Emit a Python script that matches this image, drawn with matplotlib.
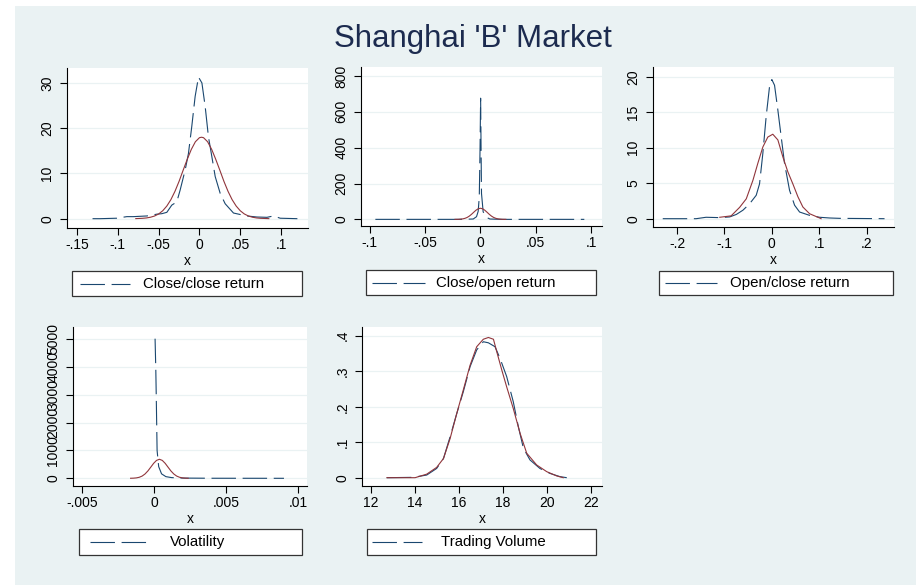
import matplotlib.pyplot as plt
from matplotlib.patches import Rectangle
from matplotlib.lines import Line2D

plt.rcParams['font.family'] = ['Liberation Sans', 'DejaVu Sans']

W, H = 916, 585
BG = '#eaf2f3'
NAVY = '#1a476f'
MAROON = '#90353b'

titulo = "Shanghai 'B' Market"

# Close/close return
cc_kd_x = [-0.131, -0.1218, -0.1014, -0.089, -0.081, -0.0645, -0.052, -0.0462, -0.040, -0.0339,
           -0.0278, -0.0237, -0.0176, -0.0135, -0.0094, -0.0053, -0.0012, 0.003, 0.007, 0.011,
           0.0152, 0.0193, 0.0254, 0.0315, 0.0417, 0.058, 0.0704, 0.0827, 0.0908, 0.099, 0.12]
cc_kd_y = [0, 0, 0.1, 0.45, 0.45, 0.6, 1.0, 1.1, 1.4, 3.0,
           3.7, 6.3, 10.7, 14.4, 20.4, 27.0, 31.3, 30.0, 24.8, 18.1,
           13.7, 9.3, 5.6, 3.3, 1.25, 0.6, 0.37, 0.3, 0.6, 0.1, 0]
cc_nd_x = [-0.078, -0.07, -0.065, -0.06, -0.055, -0.05, -0.045, -0.04, -0.035, -0.03, -0.025,
           -0.02, -0.015, -0.01, -0.005, 0.0, 0.0025, 0.005, 0.01, 0.015, 0.02, 0.025, 0.03,
           0.035, 0.04, 0.045, 0.05, 0.055, 0.06, 0.065, 0.07, 0.075, 0.085]
cc_nd_y = [0.02, 0.08, 0.16, 0.32, 0.59, 1.04, 1.75, 2.79, 4.21, 6.05, 8.24,
           10.7, 13.1, 15.3, 17.0, 17.9, 18.0, 17.9, 17.0, 15.3, 13.1, 10.7, 8.24,
           6.05, 4.21, 2.79, 1.75, 1.04, 0.59, 0.32, 0.16, 0.08, 0.01]

# Close/open return
co_kd_x = [-0.095, -0.02, -0.0065, -0.0035, -0.002, -0.001, -0.0003, 0.0002, 0.0006, 0.001,
           0.0025, 0.0056, 0.0086, 0.02, 0.094]
co_kd_y = [0, 0, 2, 15, 45, 126, 400, 676, 400, 145, 42, 11, 2, 0, 0]
co_nd_x = [-0.023, -0.02, -0.018, -0.016, -0.014, -0.012, -0.01, -0.008, -0.006, -0.004, -0.002,
           0.0, 0.002, 0.004, 0.006, 0.008, 0.01, 0.012, 0.014, 0.016, 0.018, 0.02, 0.023]
co_nd_y = [0.1, 0.47, 1.2, 2.7, 5.7, 10.7, 18.3, 28.4, 39.9, 51.0, 59.0,
           62.0, 59.0, 51.0, 39.9, 28.4, 18.3, 10.7, 5.7, 2.7, 1.2, 0.47, 0.1]

# Open/close return
oc_kd_x = [-0.2304, -0.16, -0.139, -0.11, -0.089, -0.075, -0.061, -0.047, -0.033, -0.026,
           -0.019, -0.012, -0.0049, 0.0, 0.0057, 0.0127, 0.0198, 0.0268, 0.0374, 0.048,
           0.0586, 0.0797, 0.1008, 0.122, 0.143, 0.238]
oc_kd_y = [0, 0, 0.2, 0.15, 0.25, 0.6, 1.2, 2.1, 3.3, 4.9,
           9.2, 14.4, 18.6, 19.6, 18.8, 15.3, 11.5, 7.8, 4.0, 1.9,
           0.94, 0.47, 0.2, 0.1, 0.05, 0]
oc_nd_x = [-0.11, -0.086, -0.068, -0.054, -0.04, -0.0296, -0.019, -0.0085, 0.002, 0.0127,
           0.0233, 0.0338, 0.0444, 0.055, 0.0655, 0.0797, 0.1008, 0.104]
oc_nd_y = [0.2, 0.4, 1.6, 2.8, 5.4, 7.8, 10.1, 11.5, 11.9, 11.1,
           8.7, 6.6, 4.9, 3.1, 1.65, 0.7, 0.1, 0.0]

# Volatility
vol_kd_x = [0.00005, 0.0001, 0.00013, 0.00019, 0.0003, 0.0005, 0.0008, 0.0012, 0.002, 0.004, 0.009]
vol_kd_y = [5010, 3900, 3000, 1000, 420, 160, 60, 25, 8, 2, 0]
vol_nd_x = [-0.00165, -0.00145, -0.00125, -0.00105, -0.00085, -0.00065, -0.00045, -0.00025,
            -0.00005, 0.00015, 0.00035, 0.00055, 0.00075, 0.00095, 0.00115, 0.00135, 0.00155,
            0.00175, 0.00195, 0.00215, 0.00235]
vol_nd_y = [1.8, 5.5, 15, 37, 80, 155, 264, 400, 538, 643, 683, 643, 538, 400, 264, 155, 80,
            37, 15, 5.5, 1.8]

# Trading volume
tv_kd_x = [12.73, 13.93, 14.54, 14.99, 15.3, 15.6, 15.9, 16.2, 16.51, 16.81, 17.11, 17.34,
           17.64, 17.87, 18.17, 18.47, 18.7, 18.93, 19.23, 19.68, 20.14, 20.59, 20.9]
tv_kd_y = [0, 0.001, 0.0075, 0.026, 0.054, 0.115, 0.18, 0.242, 0.313, 0.36, 0.383, 0.38,
           0.369, 0.336, 0.285, 0.214, 0.144, 0.083, 0.05, 0.026, 0.012, 0.003, 0]
tv_nd_x = [12.73, 14.01, 14.54, 14.99, 15.3, 15.6, 15.9, 16.2, 16.51, 16.81, 17.11, 17.34,
           17.57, 17.72, 17.95, 18.17, 18.47, 18.78, 19.08, 19.53, 19.99, 20.44, 20.74]
tv_nd_y = [0, 0.0, 0.01, 0.029, 0.054, 0.11, 0.18, 0.247, 0.317, 0.369, 0.39, 0.395,
           0.39, 0.355, 0.303, 0.256, 0.195, 0.125, 0.069, 0.036, 0.017, 0.005, 0]

legendas = ['Close/close return', 'Close/open return', 'Open/close return',
            'Volatility', 'Trading Volume']

cc_xticks = [-0.15, -0.1, -0.05, 0, 0.05, 0.1]
cc_xlabels = ['-.15', '-.1', '-.05', '0', '.05', '.1']
cc_yticks = [0, 10, 20, 30]
co_xticks = [-0.1, -0.05, 0, 0.05, 0.1]
co_xlabels = ['-.1', '-.05', '0', '.05', '.1']
co_yticks = [0, 200, 400, 600, 800]
oc_xticks = [-0.2, -0.1, 0, 0.1, 0.2]
oc_xlabels = ['-.2', '-.1', '0', '.1', '.2']
oc_yticks = [0, 5, 10, 15, 20]
vol_xticks = [-0.005, 0, 0.005, 0.01]
vol_xlabels = ['-.005', '0', '.005', '.01']
vol_yticks = [0, 1000, 2000, 3000, 4000, 5000]
tv_xticks = [12, 14, 16, 18, 20, 22]
tv_xlabels = ['12', '14', '16', '18', '20', '22']
tv_yticks = [0, 0.1, 0.2, 0.3, 0.4]
tv_ylabels = ['0', '.1', '.2', '.3', '.4']


def caixa(l, t, r, b):
    """pixel box -> figure fraction rect"""
    return [l / W, 1 - b / H, (r - l) / W, (b - t) / H]


def desenhar_painel(fig, rect, kx, ky, nx, ny, xlim, ylim, xticks, xlabels, yticks, ylabels):
    ax = fig.add_axes(caixa(*rect))
    ax.set_facecolor('white')
    ax.plot(kx, ky, color=NAVY, lw=0.8, dashes=(22, 6))
    ax.plot(nx, ny, color=MAROON, lw=0.8)
    ax.set_xlim(*xlim)
    ax.set_ylim(*ylim)
    ax.set_xticks(xticks)
    ax.set_xticklabels(xlabels)
    ax.set_yticks(yticks)
    ax.set_yticklabels(ylabels if ylabels else [str(v) for v in yticks],
                       rotation=90, va='center')
    ax.set_axisbelow(True)
    ax.yaxis.grid(True, color=BG, lw=0.9)
    for s in ['top', 'right']:
        ax.spines[s].set_visible(False)
    for s in ['left', 'bottom']:
        ax.spines[s].set_linewidth(0.8)
    ax.tick_params(length=5, width=0.8, labelsize=10, colors='black')
    ax.tick_params(axis='x', pad=2.5)
    ax.tick_params(axis='y', pad=4)
    ax.set_xlabel('x', fontsize=10, labelpad=1)
    return ax


def desenhar_legenda(fig, box, chave, texto_x, label):
    l, t, r, b = box
    fig.add_artist(Rectangle((l / W, 1 - b / H), (r - l) / W, (b - t) / H,
                             transform=fig.transFigure, facecolor='white',
                             edgecolor='#333333', lw=0.9))
    yc = 1 - (t + b) / 2 / H
    fig.add_artist(Line2D([(l + chave[0]) / W, (l + chave[1]) / W], [yc, yc],
                          transform=fig.transFigure, color=NAVY, lw=0.8, dashes=(22, 6)))
    fig.text((l + texto_x) / W, yc, label, fontsize=10.8, va='center', ha='left')


fig = plt.figure(figsize=(W / 100, H / 100), dpi=100, facecolor='white')
fig.add_artist(Rectangle((15 / W, 0), 1 - 15 / W, 1 - 6 / H, transform=fig.transFigure,
                         facecolor=BG, edgecolor='none', zorder=-10))
fig.text(473 / W, 1 - 39 / H, titulo, fontsize=22.5, color='#1c2b4f', ha='center', va='center')

desenhar_painel(fig, (67, 68, 308, 228), cc_kd_x, cc_kd_y, cc_nd_x, cc_nd_y,
                (-0.1623, 0.133), (-2.06, 33.3), cc_xticks, cc_xlabels, cc_yticks, None)
desenhar_painel(fig, (361, 67, 602, 226), co_kd_x, co_kd_y, co_nd_x, co_nd_y,
                (-0.108, 0.110), (-37, 850), co_xticks, co_xlabels, co_yticks, None)
desenhar_painel(fig, (653, 67, 894, 227), oc_kd_x, oc_kd_y, oc_nd_x, oc_nd_y,
                (-0.251, 0.258), (-1.17, 21.37), oc_xticks, oc_xlabels, oc_yticks, None)
desenhar_painel(fig, (73, 327, 307, 486), vol_kd_x, vol_kd_y, vol_nd_x, vol_nd_y,
                (-0.00565, 0.0106), (-276, 5430), vol_xticks, vol_xlabels, vol_yticks, None)
desenhar_painel(fig, (362, 327, 602, 486), tv_kd_x, tv_kd_y, tv_nd_x, tv_nd_y,
                (11.6, 22.5), (-0.0234, 0.4245), tv_xticks, tv_xlabels, tv_yticks, tv_ylabels)

# caixas das legendas
desenhar_legenda(fig, (72, 271, 302, 296), (8, 58), 71, legendas[0])
desenhar_legenda(fig, (366, 270, 596, 295), (6, 59), 70, legendas[1])
desenhar_legenda(fig, (659, 271, 893, 295), (6, 58), 71, legendas[2])
desenhar_legenda(fig, (79, 529, 302, 555), (11, 69), 91, legendas[3])
desenhar_legenda(fig, (367, 529, 596, 555), (5, 55), 74, legendas[4])

fig.savefig('out.png', dpi=100, facecolor='white')
